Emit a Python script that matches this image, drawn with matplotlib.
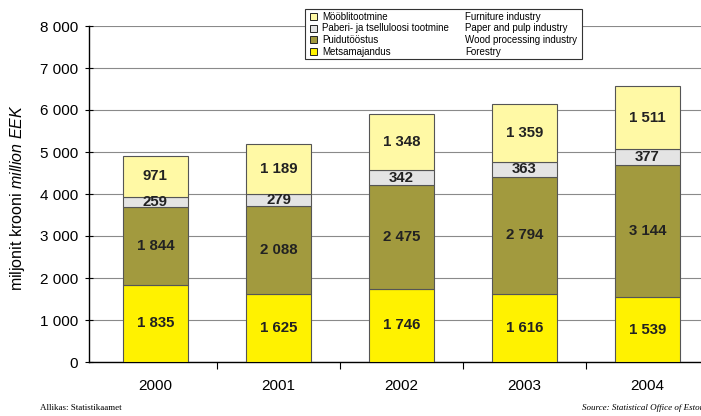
import numpy as np
import matplotlib.pyplot as plt
from matplotlib.patches import Rectangle

plt.rcParams["font.family"] = "Liberation Sans"
plt.rcParams["mathtext.fontset"] = "custom"
plt.rcParams["mathtext.rm"] = "Liberation Sans"
plt.rcParams["mathtext.it"] = "Liberation Sans:italic"

years = ["2000", "2001", "2002", "2003", "2004"]
forestry = [1835, 1625, 1746, 1616, 1539]
wood = [1844, 2088, 2475, 2794, 3144]
paper = [259, 279, 342, 363, 377]
furniture = [971, 1189, 1348, 1359, 1511]

series = [
    ("Metsamajandus", "Forestry", forestry, "#FFF200"),
    ("Puidutööstus", "Wood processing industry", wood, "#A29A3E"),
    ("Paberi- ja tselluloosi tootmine", "Paper and pulp industry", paper, "#E4E4E4"),
    ("Mööblitootmine", "Furniture industry", furniture, "#FFF9A5"),
]

W, H = 701, 416
fig = plt.figure(figsize=(W / 100, H / 100), dpi=100)
ax = fig.add_axes([89 / W, (H - 362) / H, (709 - 89) / W, (362 - 26) / H])

x = np.arange(len(years))
bottom = np.zeros(len(years))
for et, en, vals, col in series:
    vals = np.array(vals, dtype=float)
    ax.bar(x, vals, 0.53, bottom=bottom, color=col, edgecolor="#555555",
           linewidth=0.8, zorder=3)
    for xi, b, v in zip(x, bottom, vals):
        ax.text(xi, b + v / 2, f"{int(v):,}".replace(",", " "), ha="center",
                va="center", fontsize=10.8, fontweight="bold", color="#222222",
                zorder=4)
    bottom += vals

ax.set_xlim(-0.54, 4.5)
ax.set_ylim(0, 8000)
ax.set_yticks(np.arange(0, 8001, 1000))
ax.set_yticklabels([f"{v:,}".replace(",", " ") for v in range(0, 8001, 1000)])
ax.set_xticks(x)
ax.set_xticklabels(years)
ax.set_xticks(np.arange(0.5, 4.6, 1), minor=True)
ax.tick_params(axis="x", which="major", length=0, pad=12, labelsize=11)
ax.tick_params(axis="x", which="minor", length=5, direction="out", width=0.8)
ax.tick_params(axis="y", length=6, direction="inout", width=0.8, pad=5,
               labelsize=11)
ax.yaxis.grid(True, color="#8a8a8a", linewidth=0.8, zorder=0)
ax.set_axisbelow(True)
for s in ["top", "right"]:
    ax.spines[s].set_visible(False)
ax.spines["left"].set_linewidth(1.0)
ax.spines["bottom"].set_linewidth(1.0)

fig.text(18 / W, 1 - 198 / H, r"miljonit krooni $\it{million\ EEK}$",
         rotation=90, ha="center", va="center", fontsize=11.5)

# legend box
lx0, ly0, lx1, ly1 = 305, 9, 582, 59
fig.add_artist(Rectangle((lx0 / W, 1 - ly1 / H), (lx1 - lx0) / W,
                         (ly1 - ly0) / H, transform=fig.transFigure,
                         facecolor="white", edgecolor="#333333", linewidth=0.8,
                         zorder=10))
for i, (et, en, vals, col) in enumerate(reversed(series)):
    yc = 16.5 + i * 11.7
    fig.add_artist(Rectangle((310 / W, 1 - (yc + 3.5) / H), 7 / W, 7 / H,
                             transform=fig.transFigure, facecolor=col,
                             edgecolor="#222222", linewidth=0.7, zorder=11))
    fig.text(322 / W, 1 - yc / H, et, ha="left", va="center", fontsize=7,
             zorder=12)
    fig.text(465 / W, 1 - yc / H, en, ha="left", va="center", fontsize=7,
             zorder=12)

fig.text(40 / W, 1 - 408 / H, "Allikas: Statistikaamet", family="Liberation Serif",
         fontsize=6.5, ha="left", va="center")
fig.text(582 / W, 1 - 408 / H, "Source: Statistical Office of Estonia",
         family="Liberation Serif", style="italic", fontsize=6.5, ha="left",
         va="center")

fig.savefig("out.png", dpi=100)
